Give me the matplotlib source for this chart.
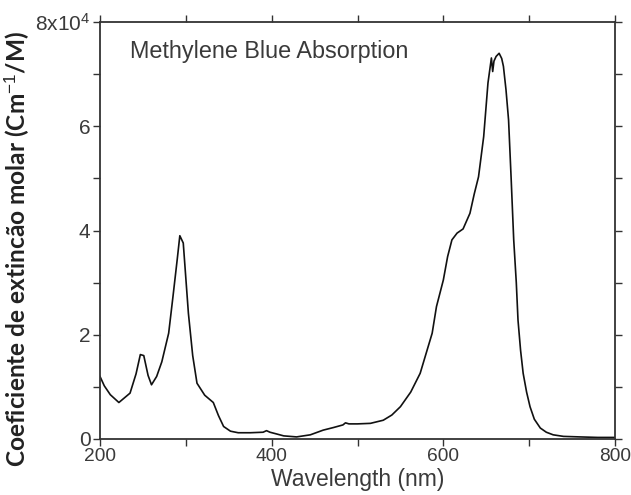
import matplotlib
matplotlib.use("Agg")
import matplotlib.pyplot as plt
from matplotlib.ticker import FixedLocator, MultipleLocator

plt.rcParams['mathtext.fontset'] = 'custom'
plt.rcParams['mathtext.rm'] = 'Liberation Sans'
plt.rcParams['mathtext.it'] = 'Liberation Sans'
plt.rcParams['mathtext.bf'] = 'Lato:bold'

wavelength = [200, 205, 212, 222, 235, 242, 247, 251, 256, 260, 266, 272, 280, 285,
              290, 293, 297, 303, 308, 313, 322, 332, 338, 344, 352, 361, 375, 390,
              394, 398, 405, 414, 429, 445, 460, 472, 483, 486, 490, 500, 515, 530,
              540, 550, 562, 573, 581, 587, 592, 600, 605, 610, 616, 623, 631, 636,
              641, 647, 652, 656, 657.5, 659, 661.5, 665, 668, 670, 673, 676, 679,
              682, 685, 687, 690, 693, 697, 701, 706, 713, 720, 728, 740, 759, 780, 800]
absorbance = [1.20, 1.02, 0.85, 0.70, 0.88, 1.25, 1.62, 1.60, 1.22, 1.04, 1.20, 1.48,
              2.03, 2.73, 3.45, 3.90, 3.76, 2.41, 1.60, 1.07, 0.84, 0.70, 0.45, 0.24,
              0.15, 0.12, 0.12, 0.13, 0.16, 0.13, 0.10, 0.06, 0.04, 0.08, 0.17, 0.22,
              0.27, 0.31, 0.29, 0.29, 0.30, 0.36, 0.46, 0.62, 0.90, 1.26, 1.70, 2.03,
              2.54, 3.05, 3.50, 3.82, 3.95, 4.03, 4.33, 4.70, 5.03, 5.80, 6.83, 7.31,
              7.05, 7.25, 7.34, 7.40, 7.30, 7.15, 6.70, 6.12, 5.00, 3.82, 3.00, 2.28,
              1.70, 1.26, 0.90, 0.62, 0.38, 0.21, 0.13, 0.08, 0.05, 0.04, 0.03, 0.03]

y_ticks = [0, 2, 4, 6, 8]
y_ticklabels = ['0', '2', '4', '6', '8x10$^4$']
x_ticks = [200, 400, 600, 800]

tick_color = '#3a3a3a'
tick_font = 'Liberation Sans'

fig = plt.figure(figsize=(6.31, 4.95), dpi=100)
ax = fig.add_axes([100/631, 1 - 439/495, 515/631, 417/495])

ax.plot(wavelength, absorbance, color='#111111', lw=1.2)

ax.set_xlim(200, 800)
ax.set_ylim(0, 8)
ax.xaxis.set_major_locator(FixedLocator(x_ticks))
ax.xaxis.set_minor_locator(MultipleLocator(100))
ax.yaxis.set_major_locator(FixedLocator(y_ticks))
ax.yaxis.set_minor_locator(MultipleLocator(1))
ax.set_yticklabels(y_ticklabels)

ax.tick_params(axis='both', which='both', direction='out', top=True, right=True,
               length=4.8, width=1.0, color='#333333', labelcolor=tick_color, pad=2)
ax.tick_params(axis='x', labelsize=13.8)
ax.tick_params(axis='y', labelsize=15)
for lab in ax.get_xticklabels() + ax.get_yticklabels():
    lab.set_fontfamily(tick_font)

for sp in ax.spines.values():
    sp.set_color('#333333')
    sp.set_linewidth(1.3)

ax.set_xlabel('Wavelength (nm)', fontsize=16.5, family=tick_font, color=tick_color, labelpad=2)
ax.set_ylabel('Coeficiente de extincão molar (Cm$^{-1}$/M)', fontsize=17.6,
              family='Lato', fontweight='bold', color='#222222')
ax.yaxis.set_label_coords(-0.132, 0.456)

ax.text(0.058, 0.93, 'Methylene Blue Absorption', transform=ax.transAxes,
        fontsize=16.8, family=tick_font, color=tick_color, va='center', ha='left')

fig.savefig('out.png', dpi=100)
